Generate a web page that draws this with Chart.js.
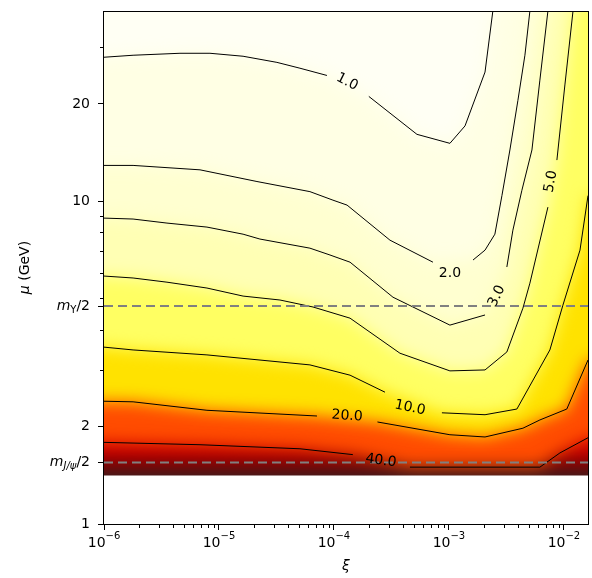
<!DOCTYPE html>
<html>
<head>
<meta charset="utf-8">
<script src="https://cdn.jsdelivr.net/npm/chart.js@4.4.1/dist/chart.umd.min.js"></script>
<style>
  html, body { margin: 0; padding: 0; background: #fff; }
</style>
</head>
<body>
<canvas id="chart" width="592" height="578"></canvas>
<script>
// axis ranges
const XI_MIN = 1e-6, XI_MAX = 0.0162;
const MU_MIN = 1, MU_MAX = 38.8;
const MU_GRID_MIN = 1.414; // map has no values below this
// fill polygons run a bit past the frame so the blur has no edges inside it
const XI_OUT_L = 1e-7, XI_OUT_R = 0.03, MU_OUT_TOP = 60, MU_OUT_BOT = 0.9;

const xTicks = [1e-6, 1e-5, 1e-4, 1e-3, 1e-2];
const xTickExp = ['−6', '−5', '−4', '−3', '−2'];
const yTicks = [1, 1.55, 2, 4.73, 10, 20];
const yTickLabels = ['1', '', '2', '', '10', '20'];
const yMinorTicks = [3, 4, 5, 6, 7, 8, 9, 30];
const xMinorTicks = [];
for (let d = -6; d <= -3; d++) for (let k = 2; k <= 9; k++) xMinorTicks.push(k * Math.pow(10, d));

// half quarkonium masses (dashed lines)
const massMu = [4.73, 1.55];
const massSub = ['Υ', 'J/ψ'];

// contour lines, null = gap for the inline label
const levels = ['1.0', '2.0', '3.0', '5.0', '10.0', '20.0', '40.0'];
const c1Xi = [1e-6, 1.79e-6, 4.58e-6, 8.35e-6, 1.62e-5, 3.19e-5, 5.06e-5, 8.69e-5, 1.30e-4, 2.01e-4, 5.27e-4, 1.02e-3, 1.38e-3, 2.06e-3, 2.41e-3];
const c1Mu = [27.9, 28.3, 28.7, 28.7, 28.1, 26.9, 25.8, 24.5, null, 21.1, 16.1, 15.1, 17.1, 25.1, 38.8];
const c2Xi = [1e-6, 1.79e-6, 6.84e-6, 2.14e-5, 6.18e-5, 9.80e-5, 1.30e-4, 3.07e-4, 7.26e-4, 1.02e-3, 1.62e-3, 2.06e-3, 2.51e-3, 2.89e-3, 3.39e-3, 3.98e-3, 4.58e-3, 5.06e-3];
const c2Mu = [12.9, 12.9, 12.5, 11.5, 10.7, 10.07, 9.72, 7.57, 6.47, null, 6.57, 7.05, 7.90, 10.4, 14.4, 20.5, 28.3, 38.8];
const c3Xi = [1e-6, 1.79e-6, 3.53e-6, 7.86e-6, 1.62e-5, 2.27e-5, 6.18e-5, 9.23e-5, 1.38e-4, 3.26e-4, 1.02e-3, 2.06e-3, 2.61e-3, 3.19e-3, 3.60e-3, 4.31e-3, 5.27e-3, 6.18e-3, 7.26e-3];
const c3Mu = [8.86, 8.80, 8.55, 8.31, 7.90, 7.63, 7.15, 6.81, 6.47, 5.04, 4.13, 4.44, null, 6.25, 8.13, 10.8, 14.4, 23.7, 38.8];
const c5Xi = [1e-6, 1.79e-6, 3.53e-6, 7.86e-6, 1.62e-5, 3.39e-5, 6.57e-5, 1.38e-4, 3.75e-4, 1.02e-3, 2.06e-3, 3.19e-3, 4.40e-3, 5.06e-3, 7.26e-3, 7.71e-3, 8.69e-3, 1.02e-2, 1.20e-2];
const c5Mu = [5.86, 5.78, 5.61, 5.38, 5.08, 4.94, 4.70, 4.34, 3.38, 2.98, 3.00, 3.41, 4.66, 5.57, 9.58, null, 13.4, 22.9, 38.8];
const c10Xi = [1e-6, 1.79e-6, 7.86e-6, 6.18e-5, 1.38e-4, 2.78e-4, 4.58e-4, 8.69e-4, 2.06e-3, 3.90e-3, 7.55e-3, 9.80e-3, 1.38e-2, 1.62e-2];
const c10Mu = [3.53, 3.46, 3.34, 3.11, 2.89, 2.56, null, 2.21, 2.18, 2.27, 3.46, 4.76, 7.05, 10.4];
const c20Xi = [1e-6, 1.79e-6, 7.86e-6, 7.12e-5, 1.30e-4, 2.39e-4, 1.02e-3, 2.06e-3, 4.40e-3, 6.18e-3, 1.06e-2, 1.62e-2];
const c20Mu = [2.40, 2.39, 2.25, 2.16, null, 2.07, 1.89, 1.86, 1.98, 2.10, 2.27, 3.22];
const c40Xi = [1e-6, 6.84e-6, 5.06e-5, 1.46e-4, 2.56e-4, 4.58e-4, 6.18e-3, 9.23e-3, 1.62e-2];
const c40Mu = [1.79, 1.76, 1.71, 1.64, null, 1.50, 1.50, 1.66, 1.85];

// inline contour labels
const labelXi = [1.30e-4, 1.02e-3, 2.61e-3, 7.71e-3, 4.58e-4, 1.30e-4, 2.56e-4];
const labelMu = [23.4, 5.98, 5.08, 11.5, 2.29, 2.16, 1.57];
const labelAngle = [27, 0, -64, -80, 12, 4, 8];

// hot_r-like colours: below level 1, then one per band above each level
const baseColor = '#fffff4';
const bandColors = ['#ffffe4', '#ffffd0', '#ffffb4', '#ffff62', '#ffe200', '#ff4c00', null];
// the band above 40 darkens towards the lower edge of the map
const darkMu = [1.79, 1.62, 1.52, 1.45, 1.414];
const darkColors = ['#e00000', '#b00000', '#800000', '#4a1010', '#3a2020'];

const BLUR = 'blur(8px)';

const contourXi = [c1Xi, c2Xi, c3Xi, c5Xi, c10Xi, c20Xi, c40Xi];
const contourMu = [c1Mu, c2Mu, c3Mu, c5Mu, c10Mu, c20Mu, c40Mu];

function toPoints(xs, ys) {
  return xs.map((x, i) => ({ x: x, y: ys[i] }));
}

function darkFill(context) {
  const chart = context.chart;
  if (!chart.chartArea) return darkColors[0];
  const y = chart.scales.y;
  const p0 = y.getPixelForValue(darkMu[0]);
  const p1 = y.getPixelForValue(darkMu[darkMu.length - 1]);
  const g = chart.ctx.createLinearGradient(0, p0, 0, p1);
  darkMu.forEach((m, i) => g.addColorStop((y.getPixelForValue(m) - p0) / (p1 - p0), darkColors[i]));
  return g;
}

const datasets = [];

massMu.forEach(m => {
  datasets.push({
    data: [{ x: XI_MIN, y: m }, { x: XI_MAX, y: m }],
    borderColor: '#808080', borderWidth: 2, borderDash: [9, 5],
    fill: false, pointRadius: 0
  });
});

contourXi.forEach((xs, i) => {
  datasets.push({
    data: toPoints(xs, contourMu[i]),
    borderColor: '#000', borderWidth: 1, fill: false, pointRadius: 0,
    borderJoinStyle: 'round', spanGaps: false
  });
});

// white below the lowest mu of the map (drawn over the blurred fills)
datasets.push({
  data: [{ x: XI_OUT_L, y: MU_GRID_MIN }, { x: XI_OUT_R, y: MU_GRID_MIN }],
  borderWidth: 0, borderColor: 'transparent', pointRadius: 0,
  backgroundColor: '#ffffff',
  fill: { target: { value: MU_OUT_BOT } }
});

// filled regions z > level, higher level drawn later (on top)
for (let i = contourXi.length - 1; i >= 0; i--) {
  const pts = toPoints(contourXi[i], contourMu[i]).filter(p => p.y !== null);
  const last = pts[pts.length - 1];
  pts.unshift({ x: XI_OUT_L, y: pts[0].y });
  pts.push(last.x < XI_MAX ? { x: XI_OUT_R, y: MU_OUT_TOP } : { x: XI_OUT_R, y: last.y });
  datasets.push({
    data: pts, blurFill: true,
    borderWidth: 0, borderColor: 'transparent', pointRadius: 0,
    backgroundColor: bandColors[i] || darkFill,
    fill: { target: { value: MU_OUT_BOT } }
  });
}
datasets.push({
  data: [{ x: XI_OUT_L, y: MU_OUT_TOP }, { x: XI_OUT_R, y: MU_OUT_TOP }], blurFill: true,
  borderWidth: 0, borderColor: 'transparent', pointRadius: 0,
  backgroundColor: baseColor,
  fill: { target: { value: MU_OUT_BOT } }
});

const FONT = '"DejaVu Sans"';

const decorations = {
  id: 'decorations',
  // soften the band edges like the many filled levels of the original
  beforeDatasetsDraw(chart) {
    const ds = chart.data.datasets;
    chart.ctx.filter = ds[ds.length - 1].blurFill ? BLUR : 'none';
  },
  afterDatasetDraw(chart, args) {
    const next = chart.data.datasets[args.index - 1];
    chart.ctx.filter = next && next.blurFill ? BLUR : 'none';
  },
  afterDatasetsDraw(chart) {
    const { ctx, scales: { x, y } } = chart;
    ctx.filter = 'none';
    ctx.save();
    ctx.font = '14px ' + FONT;
    ctx.fillStyle = '#000';
    ctx.textAlign = 'center';
    ctx.textBaseline = 'middle';
    levels.forEach((t, i) => {
      ctx.save();
      ctx.translate(x.getPixelForValue(labelXi[i]), y.getPixelForValue(labelMu[i]));
      ctx.rotate(labelAngle[i] * Math.PI / 180);
      ctx.fillText(t, 0, 0);
      ctx.restore();
    });
    ctx.restore();
  },
  afterDraw(chart) {
    const { ctx, chartArea: a, scales: { x, y } } = chart;
    ctx.save();
    ctx.strokeStyle = '#000';
    ctx.lineWidth = 1;
    const l = Math.round(a.left) - 0.5, r = Math.round(a.right) + 0.5;
    const t = Math.round(a.top) + 0.5, b = Math.round(a.bottom) + 0.5;
    ctx.strokeRect(l, t, r - l, b - t);
    // minor ticks
    ctx.beginPath();
    yMinorTicks.forEach(v => {
      const py = Math.round(y.getPixelForValue(v)) + 0.5;
      ctx.moveTo(l - 3.5, py); ctx.lineTo(l, py);
    });
    xMinorTicks.forEach(v => {
      const px = Math.round(x.getPixelForValue(v)) + 0.5;
      ctx.moveTo(px, b); ctx.lineTo(px, b + 3.5);
    });
    ctx.stroke();

    ctx.fillStyle = '#000';
    // x tick labels 10^n
    ctx.textBaseline = 'alphabetic';
    ctx.textAlign = 'left';
    xTicks.forEach((v, i) => {
      const px = x.getPixelForValue(v);
      ctx.font = '14px ' + FONT;
      const wb = ctx.measureText('10').width;
      ctx.font = '10px ' + FONT;
      const we = ctx.measureText(xTickExp[i]).width;
      const x0 = px - (wb + we) / 2;
      ctx.font = '14px ' + FONT;
      ctx.fillText('10', x0, 547);
      ctx.font = '10px ' + FONT;
      ctx.fillText(xTickExp[i], x0 + wb, 539);
    });

    // m/2 tick labels
    ctx.textBaseline = 'middle';
    massMu.forEach((m, i) => {
      const py = y.getPixelForValue(m);
      const subFont = (i === 0 ? '' : 'italic ') + '10px ' + FONT;
      ctx.font = 'italic 14px ' + FONT;
      const wm = ctx.measureText('m').width;
      ctx.font = subFont;
      const ws = ctx.measureText(massSub[i]).width;
      ctx.font = '14px ' + FONT;
      const wr = ctx.measureText('/2').width;
      let px = a.left - 14 - (wm + ws + wr);
      ctx.font = 'italic 14px ' + FONT;
      ctx.fillText('m', px, py);
      px += wm;
      ctx.font = subFont;
      ctx.fillText(massSub[i], px, py + 4);
      px += ws;
      ctx.font = '14px ' + FONT;
      ctx.fillText('/2', px, py);
    });

    // axis titles
    ctx.textAlign = 'center';
    ctx.font = 'italic 14px ' + FONT;
    ctx.fillText('ξ', (a.left + a.right) / 2, 566);
    ctx.save();
    ctx.translate(25, (a.top + a.bottom) / 2);
    ctx.rotate(-Math.PI / 2);
    ctx.font = 'italic 14px ' + FONT;
    const wmu = ctx.measureText('μ').width;
    ctx.font = '14px ' + FONT;
    const wg = ctx.measureText(' (GeV)').width;
    ctx.textAlign = 'left';
    ctx.font = 'italic 14px ' + FONT;
    ctx.fillText('μ', -(wmu + wg) / 2, 0);
    ctx.font = '14px ' + FONT;
    ctx.fillText(' (GeV)', -(wmu + wg) / 2 + wmu, 0);
    ctx.restore();
    ctx.restore();
  }
};

new Chart(document.getElementById('chart'), {
  type: 'line',
  data: { datasets: datasets },
  options: {
    responsive: false,
    animation: false,
    devicePixelRatio: 1,
    layout: { padding: { top: 11, right: 4, left: 0, bottom: 0 } },
    plugins: {
      legend: { display: false },
      tooltip: { enabled: false },
      filler: { drawTime: 'beforeDatasetDraw' }
    },
    elements: { line: { tension: 0 }, point: { radius: 0 } },
    scales: {
      x: {
        type: 'logarithmic', min: XI_MIN, max: XI_MAX,
        afterBuildTicks: s => { s.ticks = xTicks.map(v => ({ value: v })); },
        afterFit: s => { s.height = 54; s.paddingLeft = 0; s.paddingRight = 0; },
        ticks: {
          autoSkip: false, maxRotation: 0, minRotation: 0, padding: 3,
          font: { family: 'DejaVu Sans', size: 14 },
          callback: () => ''
        },
        grid: { drawOnChartArea: false, tickLength: 6, color: '#000' },
        border: { color: '#000', width: 1 }
      },
      y: {
        type: 'logarithmic', min: MU_MIN, max: MU_MAX,
        afterBuildTicks: s => { s.ticks = yTicks.map(v => ({ value: v })); },
        afterFit: s => { s.width = 104; s.paddingTop = 0; s.paddingBottom = 0; },
        ticks: {
          autoSkip: false, padding: 8, color: '#000',
          font: { family: 'DejaVu Sans', size: 14 },
          callback: (v, i) => yTickLabels[i]
        },
        grid: { drawOnChartArea: false, tickLength: 6, color: '#000' },
        border: { color: '#000', width: 1 }
      }
    }
  },
  plugins: [decorations]
});
</script>
</body>
</html>
